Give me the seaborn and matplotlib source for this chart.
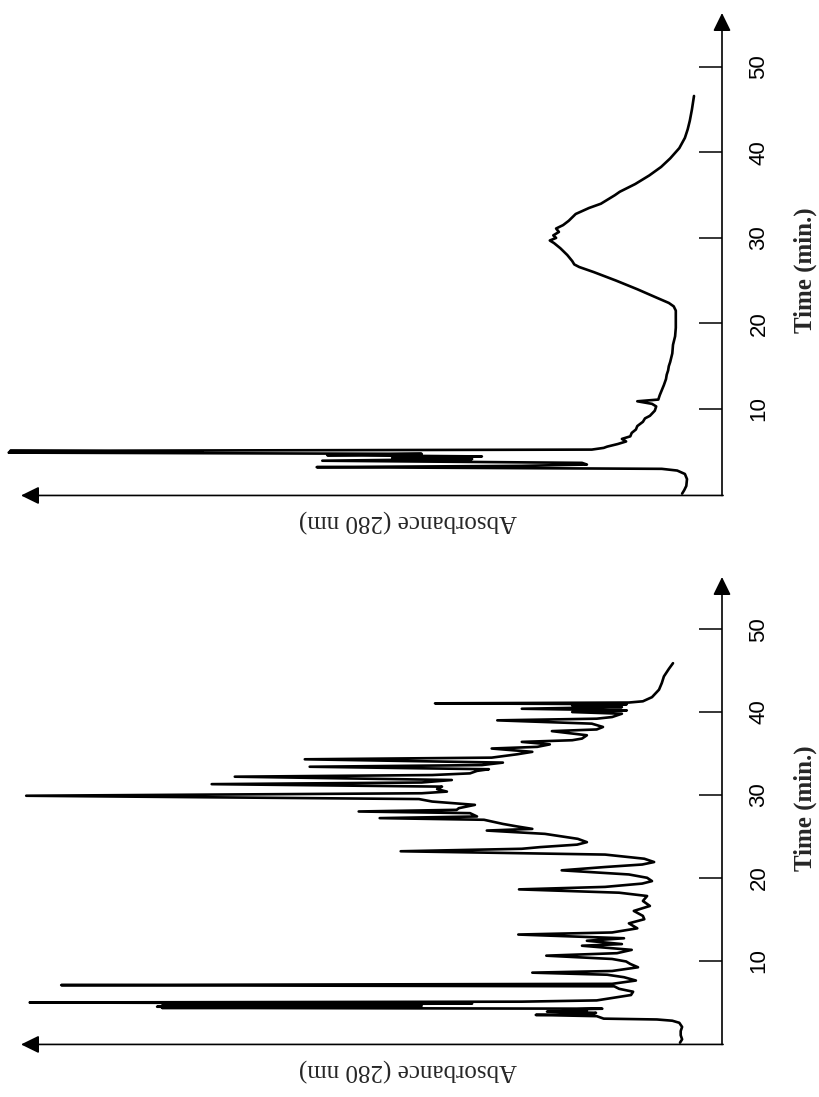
import numpy as np
import pandas as pd
import matplotlib
matplotlib.use("Agg")
import matplotlib.pyplot as plt
import seaborn as sns

# Elution profiles: time (min) and relative absorbance at 280 nm
top_time = [0.1, 0.5, 1.0, 1.8, 2.4, 2.8, 3.0, 3.2, 3.35, 3.5, 3.7, 3.95, 4.15, 4.3,
            4.45, 4.6, 4.75, 4.9, 5.0, 5.1, 5.25, 5.45, 5.6, 5.9, 6.2, 6.5, 6.8, 7.2,
            7.6, 8.0, 8.5, 8.9, 9.2, 9.8, 10.3, 10.6, 10.9, 11.1, 11.6, 12.2, 12.8,
            13.5, 14.0, 14.5, 15.0, 15.5, 16.5, 17.5, 18.5, 19.5, 20.5, 21.5, 22.0,
            22.4, 23.0, 24.0, 25.0, 26.0, 26.6, 26.9, 27.3, 28.0, 28.8, 29.4, 29.7,
            30.0, 30.3, 30.7, 31.1, 31.5, 32.0, 32.8, 33.5, 34.0, 35.0, 35.4, 36.3,
            37.3, 38.3, 39.3, 40.5, 41.7, 42.7, 43.7, 45.0, 46.6]
top_abs = [0.057, 0.054, 0.051, 0.050, 0.053, 0.064, 0.086, 0.579, 0.286, 0.193,
           0.200, 0.571, 0.357, 0.471, 0.343, 0.564, 0.429, 1.019, 0.743, 1.017,
           0.186, 0.169, 0.164, 0.149, 0.137, 0.143, 0.131, 0.129, 0.123, 0.121,
           0.113, 0.110, 0.103, 0.096, 0.094, 0.100, 0.121, 0.091, 0.089, 0.086,
           0.083, 0.080, 0.079, 0.077, 0.076, 0.074, 0.071, 0.070, 0.067, 0.066,
           0.066, 0.066, 0.069, 0.076, 0.093, 0.121, 0.151, 0.183, 0.204, 0.211,
           0.214, 0.221, 0.231, 0.240, 0.246, 0.237, 0.241, 0.233, 0.237, 0.227,
           0.219, 0.209, 0.190, 0.173, 0.153, 0.146, 0.124, 0.104, 0.087, 0.074,
           0.061, 0.053, 0.049, 0.046, 0.043, 0.040]

bottom_time = [0.1, 0.5, 1.0, 1.5, 2.0, 2.5, 2.75, 2.9, 3.0, 3.15, 3.3, 3.45, 3.55,
               3.7, 3.85, 3.95, 4.1, 4.2, 4.3, 4.37, 4.44, 4.5, 4.58, 4.65, 4.75,
               4.82, 4.95, 5.05, 5.2, 5.45, 5.85, 6.25, 6.6, 6.9, 7.05, 7.2, 7.6,
               8.0, 8.3, 8.55, 8.75, 9.2, 9.6, 9.9, 10.2, 10.6, 10.9, 11.3, 11.8,
               12.0, 12.4, 12.7, 13.15, 13.4, 13.9, 14.5, 15.0, 15.4, 16.0, 16.6,
               17.2, 17.8, 18.2, 18.6, 18.9, 19.3, 19.6, 20.0, 20.4, 20.9, 21.3,
               21.6, 21.9, 22.3, 22.8, 23.2, 23.5, 23.7, 24.0, 24.3, 24.7, 25.0,
               25.3, 25.7, 25.9, 26.2, 26.5, 27.0, 27.2, 27.4, 27.8, 28.0, 28.2,
               28.4, 28.8, 29.2, 29.5, 29.9, 30.2, 30.4, 30.7, 31.0, 31.3, 31.5,
               31.8, 32.2, 32.4, 32.6, 32.9, 33.1, 33.4, 33.6, 33.9, 34.3, 34.5,
               34.9, 35.2, 35.6, 35.8, 36.1, 36.4, 36.6, 36.8, 37.2, 37.7, 37.9,
               38.2, 38.6, 39.0, 39.2, 39.4, 39.8, 40.0, 40.2, 40.4, 40.6, 40.8,
               40.95, 41.05, 41.15, 41.3, 41.8, 42.7, 43.5, 44.3, 45.2, 45.9]
bottom_abs = [0.060, 0.057, 0.059, 0.059, 0.057, 0.061, 0.071, 0.093, 0.169, 0.174,
              0.179, 0.266, 0.186, 0.180, 0.250, 0.193, 0.220, 0.171, 0.800, 0.429,
              0.807, 0.471, 0.800, 0.429, 0.600, 0.357, 0.989, 0.286, 0.179, 0.160,
              0.130, 0.127, 0.147, 0.154, 0.944, 0.157, 0.123, 0.140, 0.164, 0.271,
              0.157, 0.120, 0.131, 0.137, 0.157, 0.251, 0.150, 0.129, 0.200, 0.143,
              0.193, 0.140, 0.291, 0.157, 0.121, 0.133, 0.111, 0.113, 0.126, 0.103,
              0.113, 0.107, 0.147, 0.290, 0.167, 0.114, 0.100, 0.107, 0.133, 0.229,
              0.167, 0.114, 0.097, 0.111, 0.167, 0.459, 0.286, 0.260, 0.207, 0.193,
              0.206, 0.229, 0.253, 0.336, 0.271, 0.293, 0.313, 0.340, 0.489, 0.350,
              0.360, 0.519, 0.379, 0.376, 0.353, 0.414, 0.433, 0.994, 0.429, 0.393,
              0.407, 0.400, 0.729, 0.429, 0.386, 0.696, 0.414, 0.360, 0.350, 0.333,
              0.589, 0.343, 0.313, 0.596, 0.329, 0.293, 0.271, 0.329, 0.264, 0.246,
              0.286, 0.214, 0.200, 0.193, 0.243, 0.179, 0.170, 0.186, 0.321, 0.179,
              0.157, 0.143, 0.214, 0.136, 0.286, 0.143, 0.214, 0.136, 0.410, 0.133,
              0.113, 0.100, 0.090, 0.086, 0.083, 0.076, 0.070]

time_ticks = [10, 20, 30, 40, 50]
time_label = "Time (min.)"
abs_label = "Absorbance (280 nm)"

sns.set_theme(style="white")
plt.rcParams["font.family"] = ["Liberation Serif", "DejaVu Serif"]

W, H = 820, 1097
fig = plt.figure(figsize=(W / 100, H / 100), dpi=100)

TMAX = 56.3
AMAX = 722 / 700

panels = [
    # (profile times, profile absorbances, axes top/bottom in pixels, label centre)
    (top_time, top_abs, 13, 494.5, 270),
    (bottom_time, bottom_abs, 577, 1043.5, 808),
]

for t_vals, a_vals, y_top, y_bot, lab_y in panels:
    ax = fig.add_axes([0, 1 - y_bot / H, 722 / W, (y_bot - y_top) / H])
    df = pd.DataFrame({"time": t_vals, "absorbance": a_vals})
    sns.lineplot(data=df, x="absorbance", y="time", sort=False, estimator=None,
                 color="black", lw=1.9, ax=ax, clip_on=False,
                 solid_joinstyle="round", solid_capstyle="round")
    ax.set_xlim(AMAX, 0)
    ax.set_ylim(0, TMAX)
    for s in ax.spines.values():
        s.set_visible(False)

    # axis lines with arrowheads
    arrow = dict(arrowstyle="-|>,head_length=0.55,head_width=0.27",
                 lw=1.2, color="black", mutation_scale=20,
                 shrinkA=0, shrinkB=0)
    ax.annotate("", xy=(1, 1), xytext=(1, -0.002), xycoords="axes fraction",
                arrowprops=arrow, annotation_clip=False)
    ax.annotate("", xy=(21 / 722, -0.002), xytext=(1.0015, -0.002),
                xycoords="axes fraction", arrowprops=arrow, annotation_clip=False)

    ax.set_xticks([])
    ax.yaxis.tick_right()
    ax.set_yticks(time_ticks)
    ax.set_yticklabels([str(v) for v in time_ticks], rotation=90,
                       family=["Liberation Sans Narrow", "Liberation Sans"],
                       fontsize=16, va="center")
    ax.tick_params(axis="y", direction="in", length=16.5, width=1.1,
                   pad=19, colors="black")

    ax.yaxis.set_label_position("right")
    ax.set_ylabel(time_label, rotation=90, fontsize=18, fontweight="bold",
                  ha="center", va="center")
    ax.yaxis.set_label_coords(805 / 722, (y_bot - lab_y) / (y_bot - y_top))

    ax.set_xlabel(abs_label, rotation=180, fontsize=18, ha="center", va="center")
    ax.xaxis.set_label_coords(408 / 722, -26 / (y_bot - y_top))

fig.savefig("out.png", dpi=100, facecolor="white")
